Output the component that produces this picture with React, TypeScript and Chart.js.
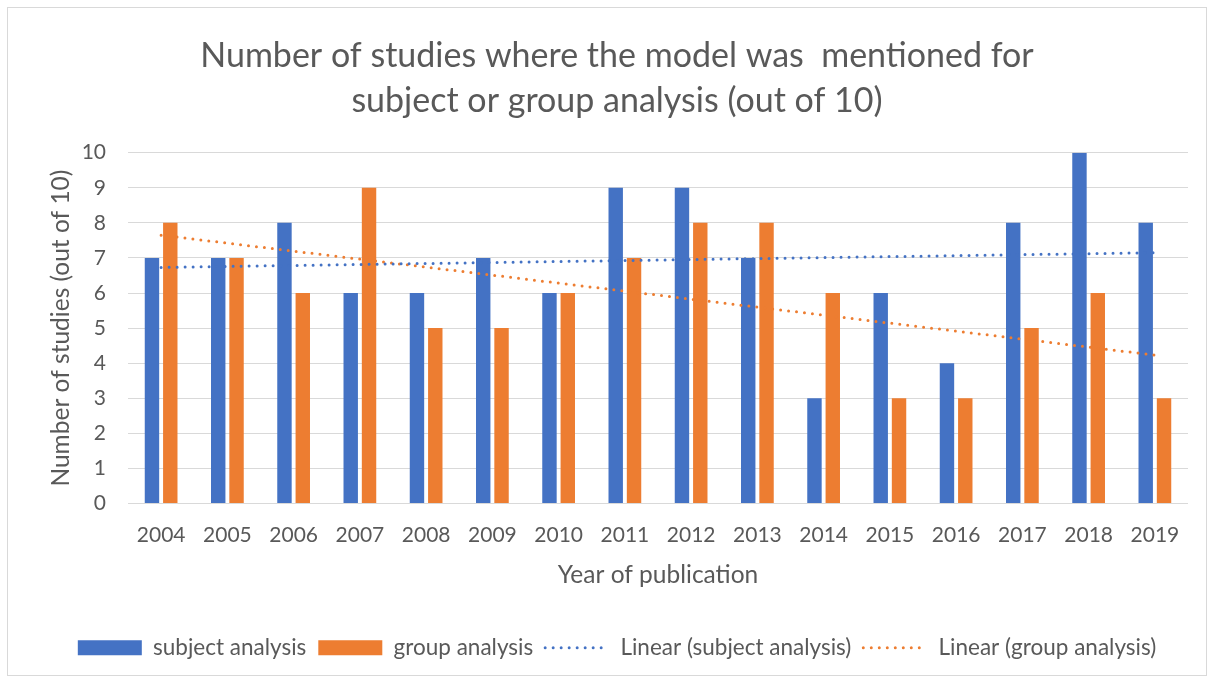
import React, { useEffect, useRef } from "react";
import { Chart, registerables } from "chart.js";

Chart.register(...registerables);

const years = ["2004", "2005", "2006", "2007", "2008", "2009", "2010", "2011", "2012", "2013", "2014", "2015", "2016", "2017", "2018", "2019"];
const subjectAnalysis = [7, 7, 8, 6, 6, 7, 6, 9, 9, 7, 3, 6, 4, 8, 10, 8];
const groupAnalysis = [8, 7, 6, 9, 5, 5, 6, 7, 8, 8, 6, 3, 3, 5, 6, 3];
// trendline endpoints (first and last year)
const subjectTrendEnds = [6.73, 7.15];
const groupTrendEnds = [7.65, 4.23];
const yTicks = [0, 1, 2, 3, 4, 5, 6, 7, 8, 9, 10];

const titleLines = ["Number of studies where the model was  mentioned for", "subject or group analysis (out of 10)"];
const xTitle = "Year of publication";
const yTitle = "Number of studies (out of 10)";
const seriesNames = ["subject analysis", "group analysis", "Linear (subject analysis)", "Linear (group analysis)"];

const BLUE = "#4472C4";
const ORANGE = "#ED7D31";
const TEXT = "#595959";
const GRID = "#D9D9D9";
const FONT = "Lato";

function trendData(ends: number[]) {
  return years.map((_, i) => (i === 0 ? ends[0] : i === years.length - 1 ? ends[1] : null));
}

export default function App() {
  const ref = useRef<HTMLCanvasElement | null>(null);
  useEffect(() => {
    if (!ref.current) return;
    const chart = new Chart(ref.current, {
      type: "bar",
      data: {
        labels: years,
        datasets: [
          {
            type: "bar",
            label: seriesNames[0],
            data: subjectAnalysis,
            backgroundColor: BLUE,
            categoryPercentage: 0.553,
            barPercentage: 0.787,
            order: 1,
          },
          {
            type: "bar",
            label: seriesNames[1],
            data: groupAnalysis,
            backgroundColor: ORANGE,
            categoryPercentage: 0.553,
            barPercentage: 0.787,
            order: 1,
          },
          {
            type: "line",
            label: seriesNames[2],
            data: trendData(subjectTrendEnds),
            borderColor: BLUE,
            borderWidth: 3,
            borderDash: [0, 8],
            borderCapStyle: "round",
            pointRadius: 0,
            spanGaps: true,
            fill: false,
            order: 0,
          },
          {
            type: "line",
            label: seriesNames[3],
            data: trendData(groupTrendEnds),
            borderColor: ORANGE,
            borderWidth: 3,
            borderDash: [0, 8],
            borderCapStyle: "round",
            pointRadius: 0,
            spanGaps: true,
            fill: false,
            order: 0,
          },
        ] as any,
      },
      options: {
        animation: false,
        responsive: false,
        layout: { padding: { left: 38, right: 18, top: 0, bottom: 6 } },
        plugins: {
          tooltip: { enabled: false },
          title: {
            display: true,
            text: titleLines,
            color: TEXT,
            font: { family: FONT, size: 34, weight: "normal", lineHeight: 1.3235 },
            padding: { top: 25.5, bottom: 29.2 },
          },
          legend: {
            position: "bottom",
            labels: {
              usePointStyle: true,
              pointStyleWidth: 64,
              boxHeight: 15,
              padding: 12,
              color: TEXT,
              font: { family: FONT, size: 22.5 },
              generateLabels: () => [
                { text: seriesNames[0], fillStyle: BLUE, strokeStyle: BLUE, lineWidth: 0, pointStyle: "rect", fontColor: TEXT, hidden: false, datasetIndex: 0 },
                { text: seriesNames[1], fillStyle: ORANGE, strokeStyle: ORANGE, lineWidth: 0, pointStyle: "rect", fontColor: TEXT, hidden: false, datasetIndex: 1 },
                { text: seriesNames[2], fillStyle: BLUE, strokeStyle: BLUE, lineWidth: 3, lineDash: [0, 8], lineCap: "round", pointStyle: "line", fontColor: TEXT, hidden: false, datasetIndex: 2 },
                { text: seriesNames[3], fillStyle: ORANGE, strokeStyle: ORANGE, lineWidth: 3, lineDash: [0, 8], lineCap: "round", pointStyle: "line", fontColor: TEXT, hidden: false, datasetIndex: 3 },
              ] as any,
            },
          },
        },
        scales: {
          x: {
            grid: { display: false },
            border: { display: false },
            afterFit: (axis: any) => {
              axis.height = 121;
            },
            ticks: { color: TEXT, font: { family: FONT, size: 21 }, padding: 11, maxRotation: 0, autoSkip: false },
            title: { display: true, text: xTitle, color: TEXT, font: { family: FONT, size: 24.5 }, padding: { top: 0, bottom: 35 } },
          },
          y: {
            min: 0,
            max: 10,
            afterBuildTicks: (axis: any) => {
              axis.ticks = yTicks.map((v) => ({ value: v }));
            },
            afterFit: (axis: any) => {
              axis.width = 82;
            },
            grid: { color: GRID, lineWidth: 1, drawTicks: false },
            border: { display: false },
            ticks: { color: TEXT, font: { family: FONT, size: 21 }, padding: 22 },
            title: { display: true, text: yTitle, color: TEXT, font: { family: FONT, size: 24.5 }, padding: { top: 0, bottom: 0 } },
          },
        },
      } as any,
    });
    return () => chart.destroy();
  }, []);

  return (
    <div
      style={{
        position: "absolute",
        left: 7,
        top: 7,
        width: 1200,
        height: 669,
        border: "1px solid #D9D9D9",
        boxSizing: "border-box",
        background: "#fff",
      }}
    >
      <canvas ref={ref} width={1198} height={667} style={{ display: "block", width: 1198, height: 667 }} />
    </div>
  );
}
